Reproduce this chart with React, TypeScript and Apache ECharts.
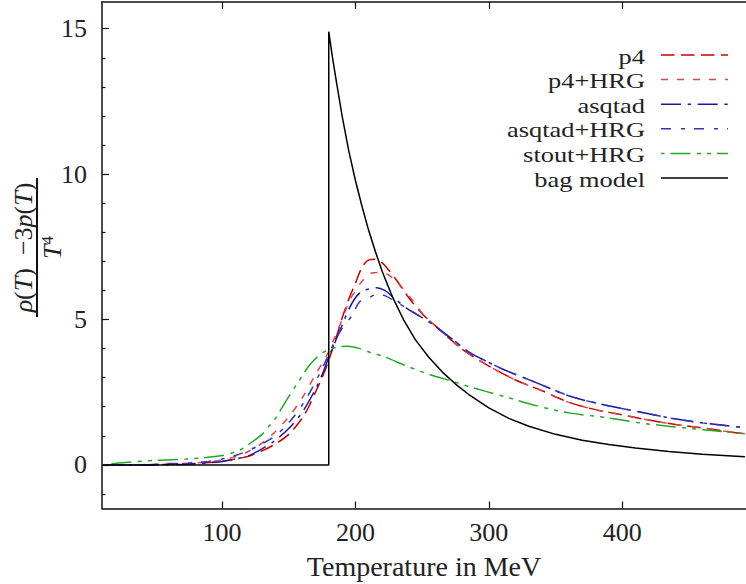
import React, { useEffect, useRef } from 'react';
import * as echarts from 'echarts';

const FONT = 'Liberation Serif';

const xTicks = [100, 200, 300, 400];
const yTicks = [0, 5, 10, 15];
const yMinorTicks = [-1, 1, 2, 3, 4, 6, 7, 8, 9, 11, 12, 13, 14];

const p4 = [
  [10, 0], [40, 0], [60, 0.02], [80, 0.05], [100, 0.12], [110, 0.2], [120, 0.3], [130, 0.48],
  [140, 0.72], [150, 1.05], [160, 1.6], [165, 2.0], [170, 2.5], [175, 3.0], [180, 3.6],
  [185, 4.3], [190, 5.05], [195, 5.7], [200, 6.25], [205, 6.8], [210, 7.05], [215, 7.07],
  [220, 6.95], [225, 6.7], [230, 6.4], [240, 5.75], [250, 5.2], [260, 4.78], [280, 3.98],
  [300, 3.4], [320, 2.92], [340, 2.55], [360, 2.15], [380, 1.9], [400, 1.72], [420, 1.54],
  [440, 1.39], [460, 1.27], [480, 1.14], [492, 1.07],
];

const p4HRG = [
  [10, 0], [30, 0], [50, 0.02], [60, 0.05], [70, 0.05], [80, 0.07], [90, 0.1], [100, 0.17],
  [110, 0.28], [120, 0.47], [130, 0.75], [140, 1.15], [150, 1.65], [160, 2.3], [170, 3.1],
  [180, 3.9], [185, 4.45], [190, 5.0], [196, 5.69], [200, 5.98], [205, 6.32], [212, 6.6],
  [217, 6.62], [223, 6.58], [230, 6.35], [235, 6.1], [243, 5.65], [250, 5.22], [260, 4.78],
  [280, 3.98], [300, 3.4], [320, 2.92], [340, 2.55], [360, 2.15], [380, 1.9], [400, 1.72],
  [420, 1.54], [440, 1.39], [460, 1.27], [480, 1.14], [492, 1.07],
];

const asqtad = [
  [10, 0], [50, 0], [70, 0.02], [90, 0.07], [100, 0.12], [110, 0.2], [120, 0.32], [130, 0.55],
  [140, 0.85], [150, 1.25], [160, 1.8], [170, 2.6], [175, 3.1], [180, 3.7], [185, 4.25],
  [190, 4.8], [195, 5.35], [200, 5.75], [205, 5.97], [210, 6.05], [216, 6.09], [222, 6.0],
  [227, 5.82], [238, 5.4], [256, 4.89], [273, 4.31], [286, 3.85], [294, 3.66], [311, 3.28],
  [336, 2.82], [361, 2.36], [386, 2.07], [411, 1.84], [436, 1.61], [461, 1.44], [492, 1.28],
];

const asqtadHRG = [
  [10, 0], [30, 0], [50, 0.02], [60, 0.04], [70, 0.05], [80, 0.08], [90, 0.12], [100, 0.2],
  [110, 0.32], [120, 0.5], [130, 0.72], [140, 1.0], [150, 1.45], [160, 2.05], [170, 2.85],
  [180, 3.8], [185, 4.3], [190, 4.7], [197, 5.11], [203, 5.6], [210, 5.75], [216, 5.86],
  [222, 5.82], [230, 5.62], [238, 5.4], [256, 4.89], [273, 4.31], [286, 3.85], [294, 3.66],
  [311, 3.28], [336, 2.82], [361, 2.36], [386, 2.07], [411, 1.84], [436, 1.61], [461, 1.44],
  [492, 1.28],
];

const stoutHRG = [
  [10, 0], [20, 0.05], [31, 0.1], [51, 0.16], [73, 0.2], [85, 0.24], [100, 0.32], [108, 0.42],
  [115, 0.55], [122, 0.77], [130, 1.05], [135, 1.32], [140, 1.6], [146, 2.05], [150, 2.35],
  [155, 2.7], [160, 3.05], [165, 3.4], [170, 3.65], [175, 3.85], [181, 3.97], [188, 4.07],
  [194, 4.08], [204, 3.99], [211, 3.87], [221, 3.73], [238, 3.41], [256, 3.1], [273, 2.87],
  [286, 2.68], [311, 2.36], [336, 2.03], [361, 1.78], [386, 1.64], [411, 1.46], [436, 1.32],
  [461, 1.21], [488, 1.09], [492, 1.07],
];

const bagModel = [
  [10, 0], [180, 0], [180, 14.9], [183, 13.95], [186, 13.1], [190, 12.0], [195, 10.8],
  [200, 9.78], [205, 8.88], [210, 8.05], [215, 7.33], [220, 6.66], [228, 5.75], [236, 5.0],
  [245, 4.3], [255, 3.7], [265, 3.2], [275, 2.78], [285, 2.42], [300, 1.96], [315, 1.6],
  [330, 1.33], [350, 1.05], [370, 0.85], [390, 0.7], [410, 0.58], [435, 0.46], [460, 0.37],
  [492, 0.28],
];

const seriesDefs = [
  { name: 'p4', data: p4, color: '#c80000', dash: [13.5, 6.5], offset: 0 },
  { name: 'p4+HRG', data: p4HRG, color: '#d84848', dash: [7, 9], offset: 0 },
  { name: 'asqtad', data: asqtad, color: '#1818a8', dash: [20, 6.7, 3.3, 6.7], offset: 0 },
  { name: 'asqtad+HRG', data: asqtadHRG, color: '#3535b8', dash: [10, 10, 4, 9], offset: 0 },
  { name: 'stout+HRG', data: stoutHRG, color: '#22a822', dash: [20, 6.5, 4, 6, 4, 6], offset: 36.5 },
  { name: 'bag model', data: bagModel, color: '#000000', dash: null as number[] | null, offset: 0 },
];

const legendRowY = [55, 79.6, 104.2, 128.8, 153.4, 178];

function buildOption() {
  const series = seriesDefs.map((s) => ({
    type: 'line',
    name: s.name,
    data: s.data,
    xAxisIndex: 0,
    yAxisIndex: 0,
    showSymbol: false,
    symbol: 'none',
    smooth: s.name === 'bag model' ? false : 0.3,
    lineStyle: {
      color: s.color,
      width: 1.5,
      type: s.dash ? s.dash : 'solid',
      dashOffset: s.offset,
    },
    itemStyle: { color: s.color },
    silent: true,
  }));

  const legendGraphics: any[] = [];
  seriesDefs.forEach((s, i) => {
    const y = legendRowY[i];
    legendGraphics.push({
      type: 'text',
      x: 645,
      y: y + 1,
      scaleX: 1.2,
      style: {
        text: s.name,
        fontFamily: FONT,
        fontSize: 22,
        fill: '#222',
        align: 'right',
        verticalAlign: 'middle',
      },
    });
    legendGraphics.push({
      type: 'line',
      shape: { x1: 661, y1: y, x2: 728, y2: y },
      style: {
        stroke: s.color,
        lineWidth: 1.5,
        lineDash: s.dash ? s.dash : null,
        lineDashOffset: s.offset,
      },
    });
  });

  const yLabel = {
    type: 'group',
    x: 37,
    y: 247.5,
    rotation: Math.PI / 2,
    children: [
      {
        type: 'line',
        shape: { x1: -69.5, y1: 0, x2: 69.5, y2: 0 },
        style: { stroke: '#111', lineWidth: 2 },
      },
      {
        type: 'text',
        x: 0,
        y: -1,
        style: {
          text: '{i|ρ}({i|T})  −3{i|p}({i|T})',
          rich: {
            i: { fontStyle: 'italic', fontSize: 26, fontFamily: FONT, fill: '#222' },
          },
          fontFamily: FONT,
          fontSize: 26,
          fill: '#222',
          align: 'center',
          verticalAlign: 'bottom',
        },
      },
      {
        type: 'text',
        x: 0,
        y: 2,
        style: {
          text: '{i|T}{s|4}',
          rich: {
            i: { fontStyle: 'italic', fontSize: 26, fontFamily: FONT, fill: '#222' },
            s: { fontSize: 17, fontFamily: FONT, fill: '#222', verticalAlign: 'top' },
          },
          fontFamily: FONT,
          fontSize: 26,
          fill: '#222',
          align: 'center',
          verticalAlign: 'top',
        },
      },
    ],
  };

  const axisLineStyle = { color: '#111', width: 1.5 };

  return {
    animation: false,
    backgroundColor: '#ffffff',
    textStyle: { fontFamily: FONT },
    grid: { left: 102, right: 0, top: 2, bottom: 75.5, outerBoundsMode: 'none', containLabel: false },
    xAxis: [
      {
        type: 'value',
        position: 'bottom',
        min: 10,
        max: 492.8,
        splitLine: { show: false },
        axisLine: { show: true, onZero: false, lineStyle: axisLineStyle },
        axisTick: { show: true, inside: true, length: 7, customValues: xTicks, lineStyle: { color: '#111', width: 1.2 } },
        axisLabel: {
          show: true,
          customValues: xTicks,
          margin: 11,
          fontFamily: FONT,
          fontSize: 26,
          color: '#222',
        },
        name: 'Temperature in MeV',
        nameLocation: 'middle',
        nameGap: 44,
        nameTextStyle: { fontFamily: FONT, fontSize: 28, color: '#222' },
      },
      {
        type: 'value',
        position: 'top',
        min: 10,
        max: 492.8,
        splitLine: { show: false },
        axisLine: { show: true, onZero: false, lineStyle: axisLineStyle },
        axisTick: { show: true, inside: true, length: 7, customValues: xTicks, lineStyle: { color: '#111', width: 1.2 } },
        axisLabel: { show: false },
      },
    ],
    yAxis: [
      {
        type: 'value',
        position: 'left',
        min: -1.5,
        max: 15.92,
        splitLine: { show: false },
        axisLine: { show: true, onZero: false, lineStyle: axisLineStyle },
        axisTick: { show: true, inside: true, length: 7, customValues: yTicks, lineStyle: { color: '#111', width: 1.2 } },
        axisLabel: {
          show: true,
          customValues: yTicks,
          margin: 15,
          fontFamily: FONT,
          fontSize: 26,
          color: '#222',
        },
      },
      {
        type: 'value',
        position: 'left',
        min: -1.5,
        max: 15.92,
        splitLine: { show: false },
        axisLine: { show: false, onZero: false },
        axisTick: { show: true, inside: true, length: 3.5, customValues: yMinorTicks, lineStyle: { color: '#111', width: 1.2 } },
        axisLabel: { show: false },
      },
    ],
    series,
    graphic: [yLabel, ...legendGraphics],
  };
}

export default function App() {
  const ref = useRef<HTMLDivElement>(null);
  useEffect(() => {
    if (!ref.current) return;
    const chart = echarts.init(ref.current, null, { renderer: 'svg' });
    chart.setOption(buildOption() as any);
    return () => {
      chart.dispose();
    };
  }, []);
  return (
    <div
      ref={ref}
      style={{ position: 'fixed', left: 0, top: 0, width: 746, height: 584, background: '#fff' }}
    />
  );
}
